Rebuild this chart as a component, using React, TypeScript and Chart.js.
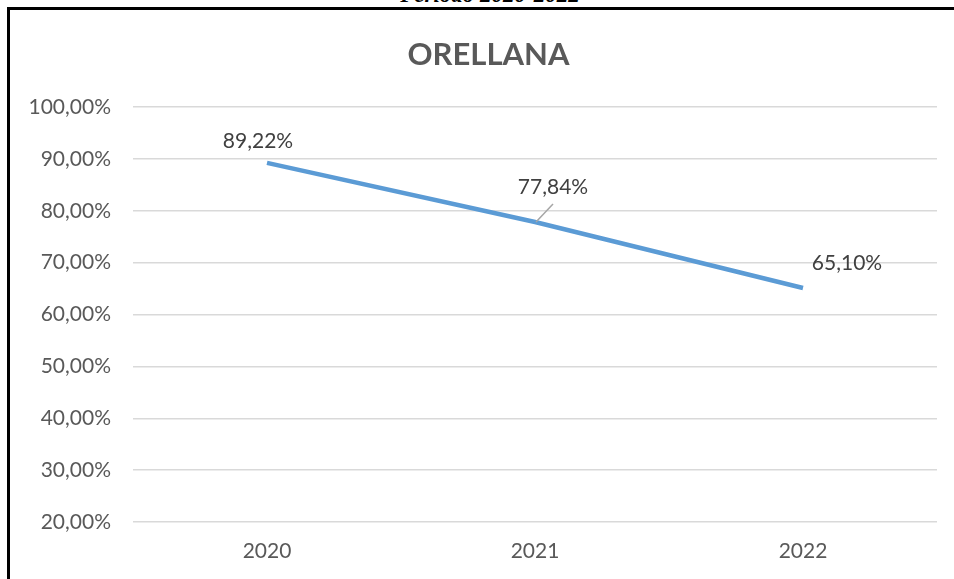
import React, { useEffect, useRef } from "react";
import { Chart, registerables } from "chart.js";

Chart.register(...registerables);

const categories = ["2020", "2021", "2022"];
const values = [89.22, 77.84, 65.1];
const valueLabels = ["89,22%", "77,84%", "65,10%"];
const chartTitle = "ORELLANA";
const pageHeading = "Periodo 2020-2022";

const FONT = "Lato, 'Open Sans', sans-serif";

const fmt = (v: number) => v.toFixed(2).replace(".", ",") + "%";

const labelPlugin = {
  id: "valueLabels",
  afterDatasetsDraw(chart: any) {
    const ctx = chart.ctx;
    const meta = chart.getDatasetMeta(0);
    ctx.save();
    ctx.font = `21px ${FONT}`;
    ctx.fillStyle = "#404040";
    ctx.textBaseline = "middle";
    ctx.textAlign = "center";
    meta.data.forEach((pt: any, i: number) => {
      const x = pt.x;
      const y = pt.y;
      if (i === 0) {
        ctx.fillText(valueLabels[i], x - 9, y - 22);
      } else if (i === 1) {
        ctx.strokeStyle = "#a6a6a6";
        ctx.lineWidth = 1.5;
        ctx.beginPath();
        ctx.moveTo(x + 1, y);
        ctx.lineTo(x + 18, y - 18);
        ctx.stroke();
        ctx.fillText(valueLabels[i], x + 18, y - 35);
      } else {
        ctx.fillText(valueLabels[i], x + 44, y - 25);
      }
    });
    ctx.restore();
  },
};

export default function App() {
  const ref = useRef<HTMLCanvasElement | null>(null);

  useEffect(() => {
    if (!ref.current) return;
    const chart = new Chart(ref.current, {
      type: "line",
      data: {
        labels: categories,
        datasets: [
          {
            data: values,
            borderColor: "#5B9BD5",
            borderWidth: 4.5,
            pointRadius: 0,
            tension: 0,
            fill: false,
          },
        ],
      },
      plugins: [labelPlugin],
      options: {
        animation: false,
        responsive: false,
        maintainAspectRatio: false,
        layout: { padding: { left: 10, right: 17, top: 107, bottom: 0 } },
        plugins: {
          legend: { display: false },
          tooltip: { enabled: false },
          title: { display: false },
        },
        scales: {
          x: {
            offset: true,
            grid: { display: false, drawTicks: false },
            border: { display: false },
            ticks: {
              color: "#595959",
              font: { family: FONT, size: 21 },
              padding: 17,
            },
            afterFit(scale: any) {
              scale.height = 57;
            },
          },
          y: {
            min: 20,
            max: 100,
            ticks: {
              stepSize: 10,
              color: "#595959",
              font: { family: FONT, size: 21 },
              padding: 22,
              callback: (v: any) => fmt(Number(v)),
            },
            grid: { color: "#d9d9d9", lineWidth: 1.5, drawTicks: false },
            border: { display: false },
            afterFit(scale: any) {
              scale.width = 123;
            },
          },
        },
      },
    });
    return () => chart.destroy();
  }, []);

  return (
    <div
      style={{
        position: "fixed",
        left: 0,
        top: 0,
        width: 954,
        height: 579,
        overflow: "hidden",
        background: "#fff",
      }}
    >
      <div
        style={{
          position: "absolute",
          left: 0,
          width: 980,
          top: -18,
          textAlign: "center",
          fontFamily: "'Liberation Serif', 'Times New Roman', serif",
          fontWeight: "bold",
          fontStyle: "italic",
          fontSize: 23,
          color: "#000",
        }}
      >
        {pageHeading}
      </div>
      <canvas
        ref={ref}
        width={954}
        height={579}
        style={{ position: "absolute", left: 0, top: 0, width: 954, height: 579 }}
      />
      <div
        style={{
          position: "absolute",
          left: 0,
          width: 977,
          top: 33,
          textAlign: "center",
          fontFamily: FONT,
          fontWeight: "bold",
          fontSize: 31,
          color: "#595959",
          lineHeight: "40px",
        }}
      >
        {chartTitle}
      </div>
      <div
        style={{
          position: "absolute",
          left: 7,
          top: 7,
          width: 960,
          height: 600,
          borderLeft: "3px solid #000",
          borderTop: "3px solid #000",
          boxSizing: "border-box",
        }}
      />
    </div>
  );
}
